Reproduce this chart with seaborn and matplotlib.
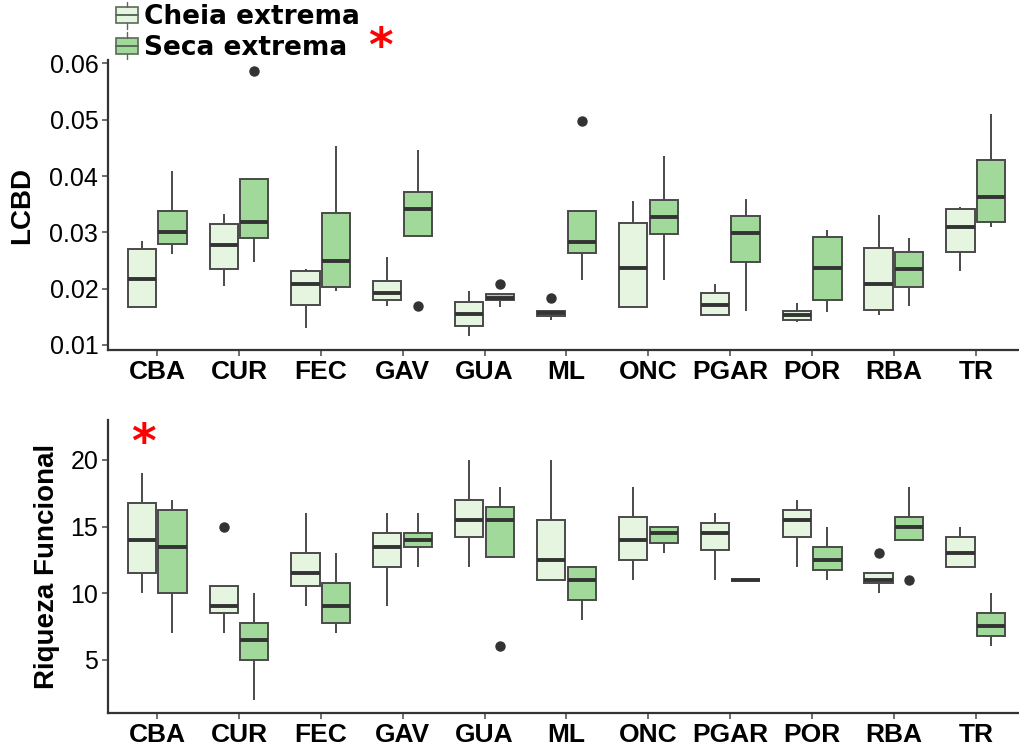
import numpy as np
import pandas as pd
import matplotlib
matplotlib.use("Agg")
import matplotlib.pyplot as plt
import seaborn as sns
from matplotlib.legend_handler import HandlerBase
from matplotlib.patches import Rectangle, Patch
from matplotlib.lines import Line2D

sites = ["CBA", "CUR", "FEC", "GAV", "GUA", "ML", "ONC", "PGAR", "POR", "RBA", "TR"]
conds = ["Cheia extrema", "Seca extrema"]
colors = ["#e5f5e0", "#a1d99b"]

# LCBD observations per site (order as in `sites`)
lcbd_cheia = [
    [0.0167, 0.0168, 0.0217, 0.0270, 0.0285],
    [0.0205, 0.0235, 0.0277, 0.0315, 0.0332],
    [0.0130, 0.0171, 0.0208, 0.0232, 0.0234],
    [0.0169, 0.0180, 0.0192, 0.0214, 0.0257],
    [0.0115, 0.0133, 0.0155, 0.0177, 0.0196],
    [0.0144, 0.0144, 0.0151, 0.0151, 0.0156, 0.0161, 0.0161, 0.0161, 0.0183],
    [0.0168, 0.0168, 0.0236, 0.0316, 0.0355],
    [0.0153, 0.0153, 0.0171, 0.0193, 0.0208],
    [0.0140, 0.0144, 0.0153, 0.0161, 0.0174],
    [0.0153, 0.0162, 0.0209, 0.0273, 0.0330],
    [0.0231, 0.0265, 0.0309, 0.0342, 0.0345],
]
lcbd_seca = [
    [0.0261, 0.0280, 0.0300, 0.0337, 0.0409],
    [0.0247, 0.0247, 0.0290, 0.0290, 0.0319, 0.0394, 0.0394, 0.0394, 0.0586],
    [0.0196, 0.0203, 0.0249, 0.0335, 0.0453],
    [0.0169, 0.0293, 0.0293, 0.0293, 0.0341, 0.0371, 0.0371, 0.0446, 0.0446],
    [0.0168, 0.0168, 0.0179, 0.0179, 0.0184, 0.0190, 0.0190, 0.0190, 0.0209],
    [0.0215, 0.0215, 0.0263, 0.0263, 0.0283, 0.0338, 0.0338, 0.0338, 0.0497],
    [0.0215, 0.0297, 0.0328, 0.0358, 0.0436],
    [0.0160, 0.0247, 0.0298, 0.0329, 0.0359],
    [0.0158, 0.0179, 0.0237, 0.0292, 0.0304],
    [0.0170, 0.0202, 0.0235, 0.0265, 0.0290],
    [0.0309, 0.0319, 0.0362, 0.0429, 0.0510],
]
# Riqueza Funcional observations per site
rf_cheia = [
    [10, 11.5, 14, 16.75, 19],
    [7, 7, 8.5, 8.5, 9, 10.5, 10.5, 10.5, 15],
    [9, 10.5, 11.5, 13, 16],
    [9, 12, 13.5, 14.5, 16],
    [12, 14.25, 15.5, 17, 20],
    [11, 11, 12.5, 15.5, 20],
    [11, 12.5, 14, 15.75, 18],
    [11, 13.25, 14.5, 15.25, 16],
    [12, 14.25, 15.5, 16.25, 17],
    [10, 10, 10.75, 10.75, 11, 11.5, 11.5, 11.5, 13],
    [12, 12, 13, 14.25, 15],
]
rf_seca = [
    [7, 10, 13.5, 16.25, 17],
    [2, 5, 6.5, 7.75, 10],
    [7, 7.75, 9, 10.75, 13],
    [12, 13.5, 14, 14.5, 16],
    [6, 12.75, 12.75, 12.75, 15.5, 16.5, 16.5, 18, 18],
    [8, 9.5, 11, 12, 12],
    [13, 13.75, 14.5, 15, 15],
    [11, 11, 11, 11, 11],
    [11, 11.75, 12.5, 13.5, 15],
    [11, 14, 14, 14, 15, 15.75, 15.75, 18, 18],
    [6, 6.75, 7.5, 8.5, 10],
]


def long_df(cheia, seca, name):
    rows = []
    for cond, groups in zip(conds, [cheia, seca]):
        for s, vals in zip(sites, groups):
            for v in vals:
                rows.append({"site": s, "cond": cond, name: v})
    return pd.DataFrame(rows)


df_lcbd = long_df(lcbd_cheia, lcbd_seca, "LCBD")
df_rf = long_df(rf_cheia, rf_seca, "RF")

sns.set_theme(style="white")
plt.rcParams["font.family"] = ["Liberation Sans", "DejaVu Sans"]
plt.rcParams["text.color"] = "black"

fig = plt.figure(figsize=(10.2, 7.45), dpi=100)
ax1 = fig.add_axes([108 / 1020, 1 - 350 / 745, 1 - 108 / 1020, (350 - 60) / 745])
ax2 = fig.add_axes([108 / 1020, 1 - 713 / 745, 1 - 108 / 1020, (713 - 420) / 745])

box_kw = dict(
    order=sites, hue="cond", hue_order=conds, palette=dict(zip(conds, colors)),
    saturation=1, width=0.75, gap=0.08, linecolor="#4a4a4a", linewidth=1.4,
    showcaps=False, fliersize=6.5, legend=False,
    medianprops=dict(color="#333333", linewidth=2.8),
    flierprops=dict(marker="o", markerfacecolor="#333333", markeredgecolor="#333333"),
)
sns.boxplot(data=df_lcbd, x="site", y="LCBD", ax=ax1, **box_kw)
sns.boxplot(data=df_rf, x="site", y="RF", ax=ax2, **box_kw)

ax1.set_ylim(0.0091, 0.0606)
ax1.set_yticks([0.01, 0.02, 0.03, 0.04, 0.05, 0.06])
ax1.set_yticklabels(["0.01", "0.02", "0.03", "0.04", "0.05", "0.06"])
ax2.set_ylim(1.0, 23.0)
ax2.set_yticks([5, 10, 15, 20])

for ax, lab in [(ax1, "LCBD"), (ax2, "Riqueza Funcional")]:
    ax.set_xlim(-0.6, 10.54)
    ax.set_xlabel("")
    ax.set_ylabel(lab, fontsize=20, fontweight="bold", color="black")
    for sp in ["top", "right"]:
        ax.spines[sp].set_visible(False)
    for sp in ["left", "bottom"]:
        ax.spines[sp].set_color("#333333")
        ax.spines[sp].set_linewidth(1.6)
    ax.tick_params(axis="both", length=4, width=1.2, color="#555555", direction="out",
                   bottom=True, left=True, pad=3)
    for t in ax.get_xticklabels():
        t.set_fontsize(19)
        t.set_fontweight("bold")
        t.set_color("black")
    for t in ax.get_yticklabels():
        t.set_fontsize(18)
        t.set_color("black")

ax1.yaxis.set_label_coords(-0.080, 0.5)
ax2.yaxis.set_label_coords(-0.053, 0.5)

# significance asterisks
fig.text(380 / 1020, 1 - 48 / 745, "*", color="red", fontsize=34, fontweight="bold",
         ha="center", va="center", family="DejaVu Sans")
fig.text(143.5 / 1020, 1 - 445 / 745, "*", color="red", fontsize=34, fontweight="bold",
         ha="center", va="center", family="DejaVu Sans")


class BoxHandler(HandlerBase):
    def create_artists(self, legend, orig_handle, xdescent, ydescent, width, height,
                       fontsize, trans):
        x0, y0 = -xdescent, -ydescent
        fc = orig_handle.get_facecolor()
        ec = "#5a6a5a"
        rect = Rectangle((x0, y0 + 0.15 * height), width, 0.7 * height, facecolor=fc,
                         edgecolor=ec, linewidth=1.2, transform=trans)
        med = Line2D([x0, x0 + width], [y0 + 0.5 * height] * 2, color=ec, lw=1.4,
                     transform=trans)
        w1 = Line2D([x0 + width / 2] * 2, [y0 - 0.1 * height, y0 + 0.15 * height],
                    color=ec, lw=1.0, transform=trans)
        w2 = Line2D([x0 + width / 2] * 2, [y0 + 0.85 * height, y0 + 1.1 * height],
                    color=ec, lw=1.0, transform=trans)
        return [rect, med, w1, w2]


handles = [Patch(facecolor=c) for c in colors]
fig.legend(handles, conds, loc="upper left", bbox_to_anchor=(112 / 1020, 1.0),
           frameon=False, handler_map={Patch: BoxHandler()}, handlelength=0.85,
           handleheight=0.95, handletextpad=0.2, labelspacing=0.15, borderaxespad=0.1,
           borderpad=0.05, labelcolor="black",
           prop={"family": "DejaVu Sans", "weight": "bold", "size": 19})

fig.savefig("out.png", dpi=100)
